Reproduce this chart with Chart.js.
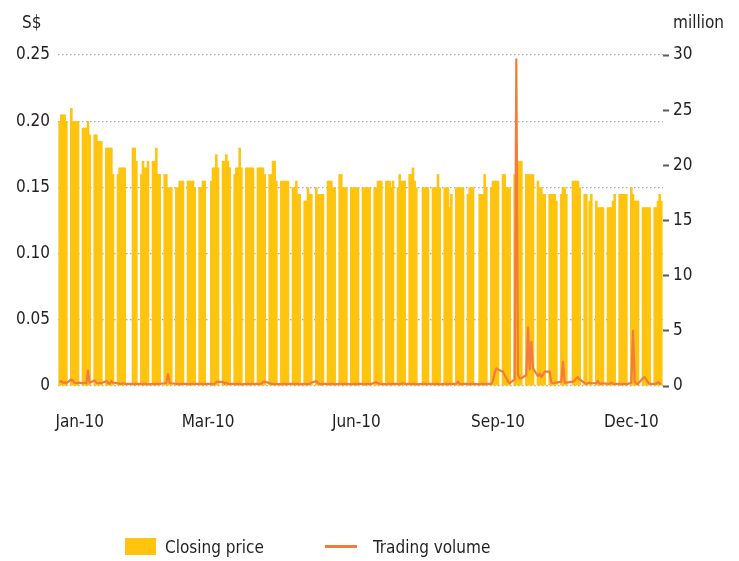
<!DOCTYPE html>
<html>
<head>
<meta charset="utf-8">
<script src="https://cdn.jsdelivr.net/npm/chart.js@4.4.1/dist/chart.umd.min.js"></script>
<style>
  html, body { margin: 0; padding: 0; background: #fff; }
  #wrap { position: relative; width: 739px; height: 561px; overflow: hidden; }
  #chart { position: absolute; left: 0; top: 0; }
  .txt { position: absolute; color: #231f20; white-space: nowrap; line-height: 22px; }
  .swatch { position: absolute; }
</style>
</head>
<body>
<div id="wrap">
  <canvas id="chart" width="739" height="561"></canvas>
  <div class="txt" id="unitLeft" style="left:22px; top:11px;">S$</div>
  <div class="txt" id="unitRight" style="left:673px; top:11px;">million</div>
  <div class="swatch" style="left:125px; top:538px; width:31px; height:17px; background:#FFC40F;"></div>
  <div class="txt" style="left:165px; top:536px;">Closing price</div>
  <div class="swatch" style="left:325px; top:545px; width:32px; height:3px; background:#F47B3B;"></div>
  <div class="txt" style="left:373px; top:536px;">Trading volume</div>
</div>
<script>
// closing price (S$), one row per week Mon..Fri, null = market holiday
const closingPrice = [
  0.200, 0.205, 0.205, 0.205, 0.200,
  0.210, 0.200, 0.200, 0.200, 0.200,
  0.195, 0.195, 0.195, 0.200, 0.190,
  0.190, 0.190, 0.185, 0.185, 0.185,
  0.180, 0.180, 0.180, 0.180, 0.160,
  0.160, 0.165, 0.165, 0.165, 0.165,
  null,  null,  0.180, 0.180, 0.170,
  0.160, 0.170, 0.165, 0.165, 0.170,
  0.170, 0.170, 0.180, 0.160, 0.160,
  0.160, 0.160, 0.150, 0.150, 0.150,
  0.150, 0.150, 0.155, 0.155, 0.155,
  0.155, 0.155, 0.155, 0.155, 0.150,
  0.150, 0.150, 0.155, 0.155, null,
  0.155, 0.165, 0.165, 0.175, 0.165,
  0.170, 0.170, 0.175, 0.170, 0.165,
  0.160, 0.165, 0.165, 0.180, 0.165,
  0.165, 0.165, 0.165, 0.165, 0.165,
  0.165, 0.165, 0.165, 0.165, 0.160,
  0.160, 0.160, 0.170, 0.170, 0.155,
  0.155, 0.155, 0.155, 0.155, 0.155,
  0.150, 0.150, 0.155, 0.145, 0.145,
  0.140, 0.140, 0.150, 0.145, 0.145,
  0.150, 0.145, 0.145, 0.145, 0.145,
  0.155, 0.155, 0.155, 0.150, 0.150,
  0.160, 0.160, 0.150, 0.150, 0.150,
  0.150, 0.150, 0.150, 0.150, 0.150,
  0.150, 0.150, 0.150, 0.150, 0.150,
  0.150, 0.150, 0.155, 0.155, 0.155,
  0.155, 0.155, 0.155, 0.150, 0.155,
  0.150, 0.160, 0.155, 0.155, 0.155,
  0.160, 0.160, 0.165, 0.155, 0.150,
  null,  0.150, 0.150, 0.150, 0.150,
  0.150, 0.150, 0.150, 0.160, 0.150,
  0.150, 0.150, 0.150, 0.135, 0.145,
  0.150, 0.150, 0.150, 0.150, 0.150,
  0.145, 0.150, 0.150, 0.150, null,
  0.145, 0.145, 0.145, 0.160, 0.150,
  0.150, 0.155, 0.155, 0.155, 0.155,
  0.160, 0.160, 0.150, 0.150, 0.150,
  0.160, 0.185, 0.170, 0.170, 0.170,
  0.160, 0.160, 0.160, 0.160, 0.160,
  0.155, 0.150, 0.150, 0.145, 0.145,
  0.145, 0.145, 0.145, 0.145, 0.140,
  0.145, 0.150, 0.150, 0.145, null,
  0.155, 0.155, 0.155, 0.155, 0.150,
  0.145, 0.145, null,  0.140, 0.145,
  0.140, 0.135, 0.135, 0.135, 0.135,
  0.135, 0.135, 0.135, 0.140, 0.145,
  0.145, 0.145, 0.145, 0.145, 0.145,
  0.150, 0.145, 0.140, 0.140, 0.140,
  0.135, 0.135, 0.135, 0.135, 0.135,
  0.135, 0.135, 0.140, 0.145, 0.140
];

// trading volume (million shares), same layout
const tradingVolume = [
  0.35, 0.45, 0.3, 0.35, 0.25,
  0.6, 0.45, 0.3, 0.25, 0.3,
  0.25, 0.3, 0.25, 1.4, 0.3,
  0.5, 0.3, 0.25, 0.3, 0.25,
  0.45, 0.25, 0.2, 0.45, 0.3,
  0.25, 0.2, 0.2, 0.25, 0.2,
  null, null, 0.2, 0.15, 0.2,
  0.2, 0.15, 0.2, 0.2, 0.15,
  0.2, 0.15, 0.2, 0.2, 0.2,
  0.25, 0.3, 1.1, 0.3, 0.25,
  0.2, 0.2, 0.15, 0.2, 0.2,
  0.2, 0.15, 0.2, 0.2, 0.2,
  0.2, 0.2, 0.15, 0.2, null,
  0.2, 0.15, 0.2, 0.35, 0.4,
  0.35, 0.2, 0.3, 0.2, 0.2,
  0.2, 0.15, 0.2, 0.2, 0.15,
  0.2, 0.2, 0.15, 0.2, 0.2,
  0.2, 0.2, 0.2, 0.35, 0.4,
  0.25, 0.2, 0.2, 0.15, 0.2,
  0.15, 0.2, 0.2, 0.15, 0.2,
  0.2, 0.15, 0.2, 0.2, 0.15,
  0.2, 0.2, 0.15, 0.2, 0.3,
  0.45, 0.25, 0.2, 0.15, 0.2,
  0.2, 0.15, 0.2, 0.2, 0.15,
  0.2, 0.2, 0.15, 0.2, 0.2,
  0.15, 0.2, 0.2, 0.15, 0.2,
  0.2, 0.15, 0.2, 0.2, 0.15,
  0.3, 0.35, 0.25, 0.2, 0.2,
  0.15, 0.2, 0.2, 0.15, 0.2,
  0.2, 0.15, 0.2, 0.25, 0.2,
  0.2, 0.15, 0.2, 0.2, 0.15,
  null, 0.2, 0.2, 0.15, 0.2,
  0.2, 0.15, 0.2, 0.2, 0.15,
  0.2, 0.2, 0.15, 0.2, 0.2,
  0.2, 0.4, 0.2, 0.15, 0.2,
  0.2, 0.15, 0.2, 0.2, null,
  0.15, 0.2, 0.2, 0.15, 0.2,
  0.2, 0.5, 1.2, 1.6, 1.5,
  1.3, 1.0, 0.7, 0.4, 0.25,
  0.6, 29.6, 1.0, 0.7, 0.7,
  1.0, 5.3, 1.5, 4.0, 1.6,
  0.9, 1.1, 0.8, 1.0, 1.3,
  1.3, 0.3, 0.25, 0.3, 0.3,
  0.4, 2.2, 0.3, 0.3, null,
  0.4, 0.5, 0.7, 0.8, 0.6,
  0.25, 0.2, null, 0.3, 0.25,
  0.25, 0.45, 0.2, 0.2, 0.25,
  0.2, 0.2, 0.3, 0.2, 0.2,
  0.2, 0.15, 0.2, 0.2, 0.15,
  0.3, 5.0, 0.4, 0.2, 0.2,
  0.7, 0.8, 0.6, 0.3, 0.2,
  0.2, 0.2, 0.35, 0.2, 0.25
];

// x axis: days counted from Mon 4 Jan 2010; labels sit where the source prints them
const monthLabels = ['Jan-10', 'Mar-10', 'Jun-10', 'Sep-10', 'Dec-10'];
const labelDays = [12, 89, 178, 263, 343];
const priceTicks = [0, 0.05, 0.10, 0.15, 0.20, 0.25];
const volumeTicks = [0, 5, 10, 15, 20, 25, 30];

// trading day -> calendar day offset (5 trading days per 7-day week)
const tradingDays = closingPrice.map((_, i) => Math.floor(i / 5) * 7 + (i % 5));

// pick a condensed face if one is installed
function pickFont() {
  const ctx = document.createElement('canvas').getContext('2d');
  ctx.font = '20px monospace';
  const base = ctx.measureText('Jan-10 0.25 Closing').width;
  ctx.font = "20px 'Liberation Sans Narrow', monospace";
  if (ctx.measureText('Jan-10 0.25 Closing').width !== base) return { family: "'Liberation Sans Narrow'", size: 21 };
  ctx.font = "20px 'DejaVu Sans Condensed', monospace";
  if (ctx.measureText('Jan-10 0.25 Closing').width !== base) return { family: "'DejaVu Sans Condensed'", size: 17 };
  return { family: 'Roboto', size: 18 };
}
const font = pickFont();
document.querySelectorAll('.txt').forEach(el => {
  el.style.fontFamily = font.family;
  el.style.fontSize = font.size + 'px';
});

const textColor = '#231f20';
const barColor = '#FFC40F';
const lineColor = '#F47B3B';

new Chart(document.getElementById('chart'), {
  type: 'bar',
  data: {
    datasets: [
      {
        type: 'line',
        label: 'Trading volume',
        data: tradingDays.map((d, i) => ({ x: d, y: tradingVolume[i] })),
        yAxisID: 'yVol',
        borderColor: lineColor,
        borderWidth: 2.2,
        borderJoinStyle: 'round',
        pointRadius: 0,
        tension: 0,
        spanGaps: true,
        order: 0
      },
      {
        type: 'bar',
        label: 'Closing price',
        data: tradingDays.map((d, i) => ({ x: d, y: closingPrice[i] })),
        yAxisID: 'yPrice',
        backgroundColor: barColor,
        borderWidth: 0,
        inflateAmount: 0,
        barThickness: 2.6,
        order: 1
      }
    ]
  },
  options: {
    responsive: false,
    animation: false,
    events: [],
    layout: { padding: { top: 55, bottom: 115, left: 0, right: 0 } },
    plugins: { legend: { display: false }, tooltip: { enabled: false } },
    font: { family: font.family, size: font.size },
    scales: {
      x: {
        type: 'linear',
        min: -1,
        max: 362,
        offset: false,
        grid: { display: false, offset: false },
        border: { display: false },
        afterFit: s => { s.height = 60; },
        afterBuildTicks: s => { s.ticks = labelDays.map(v => ({ value: v })); },
        ticks: {
          autoSkip: false,
          maxRotation: 0,
          padding: 18,
          color: textColor,
          font: { family: font.family, size: font.size },
          callback: v => monthLabels[labelDays.indexOf(v)]
        }
      },
      yPrice: {
        type: 'linear',
        position: 'left',
        min: 0,
        max: 0.25,
        afterFit: s => { s.width = 58; },
        afterBuildTicks: s => { s.ticks = priceTicks.map(v => ({ value: v })); },
        grid: {
          color: '#a9a9a2',
          lineWidth: 1.2,
          drawTicks: false
        },
        border: { display: false, dash: [1.5, 2.5] },
        ticks: {
          padding: 8,
          color: textColor,
          font: { family: font.family, size: font.size },
          callback: v => (v === 0 ? '0' : v.toFixed(2))
        }
      },
      yVol: {
        type: 'linear',
        position: 'right',
        min: 0,
        max: 30,
        afterFit: s => { s.width = 76; },
        afterBuildTicks: s => { s.ticks = volumeTicks.map(v => ({ value: v })); },
        grid: {
          drawOnChartArea: false,
          drawTicks: true,
          tickLength: 6,
          tickWidth: 2,
          tickColor: '#5a5a5a'
        },
        border: { display: false },
        ticks: {
          padding: 4,
          color: textColor,
          font: { family: font.family, size: font.size },
          callback: v => String(v)
        }
      }
    }
  }
});
</script>
</body>
</html>
